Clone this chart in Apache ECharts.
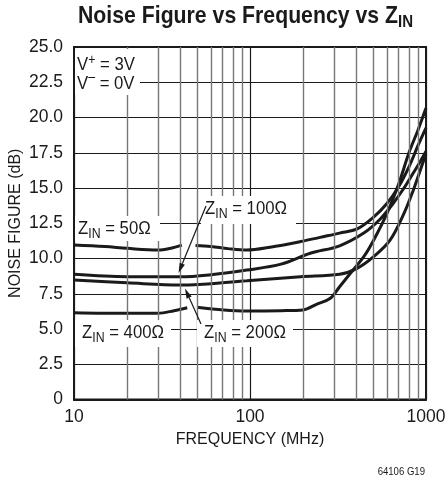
<!DOCTYPE html>
<html><head><meta charset="utf-8">
<script src="https://cdn.jsdelivr.net/npm/echarts@6/dist/echarts.min.js"></script>
<style>html,body{margin:0;padding:0;background:#fff}#c{width:448px;height:481px}</style>
</head><body><div id="c"></div>
<script>
// ---- data ----
const xTicks = [10, 100, 1000];
const minorX = [20,30,40,50,60,70,80,90,200,300,400,500,600,700,800,900];
const yTicks = [0,2.5,5,7.5,10,12.5,15,17.5,20,22.5,25];

const z50Freq = [10,15,20,30,36,41,45,49,60,75,96,130,194,250,323,406,500,600,700,800,900,1000];
const z50NF   = [10.96,10.85,10.72,10.6,10.75,10.95,null,10.92,10.85,10.7,10.6,10.8,11.2,11.5,11.8,12.1,12.9,13.9,15.1,16.5,18.0,19.26];

const z100Freq = [10,20,40,60,96,150,220,323,443,550,650,750,850,930,1000];
const z100NF   = [8.88,8.71,8.7,8.85,9.18,9.6,10.37,10.9,11.8,12.8,13.9,15.0,16.1,16.9,17.6];

const z200Freq = [10,20,40,96,194,323,406,504,625,750,850,930,1000];
const z200NF   = [8.47,8.28,8.12,8.43,8.71,8.88,9.3,10.13,11.3,13.2,14.9,16.3,17.4];

const z400Freq = [10,20,30,37,44,47,50,71,96,150,200,240,286,323,372,443,504,600,700,800,900,1000];
const z400NF   = [6.16,6.11,6.11,6.3,6.51,null,6.54,6.35,6.28,6.3,6.35,6.77,7.18,8.0,8.95,10.13,11.3,13.2,15.3,17.5,19.1,20.67];

// ---- chart ----
const FONT = "'Liberation Sans',Arial,sans-serif";
const INK = '#1a1a1a';
const pts = (f, v) => f.map((x, i) => [x, v[i] === null ? '-' : v[i]]);

const mctx = document.createElement('canvas').getContext('2d');
function tw(t, size, weight) { mctx.font = (weight||'normal') + ' ' + size + 'px ' + FONT; return mctx.measureText(t).width; }
// parts: [{t, size, dy, weight}] ; sx = horizontal condensing
function rich(x, y, parts, align, sx, fitW) {
  let total = 0; parts.forEach(p => total += tw(p.t, p.size, p.weight));
  if (fitW) sx = fitW / total;
  sx = sx || 1;
  let cx = align === 'center' ? x - total * sx / 2 : x;
  const els = [];
  parts.forEach(p => {
    els.push({type:'text', z: 20, x: cx, y: y + (p.dy||0), scaleX: sx, style:{text:p.t, fill: INK,
      font:(p.weight||'normal') + ' ' + p.size + 'px ' + FONT, textAlign:'left', textVerticalAlign:'middle'}});
    cx += tw(p.t, p.size, p.weight) * sx;
  });
  return els;
}
function box(x, y, w, h) { return {type:'rect', z: 15, shape:{x, y, width:w, height:h}, style:{fill:'#fff'}}; }
function arrow(x1, y1, x2, y2) {
  const dx = x2 - x1, dy = y2 - y1, L = Math.hypot(dx, dy), ux = dx / L, uy = dy / L;
  const bx = x2 - ux * 10, by = y2 - uy * 10, px = -uy * 2.8, py = ux * 2.8;
  return [
    {type:'line', z: 20, shape:{x1, y1, x2: bx, y2: by}, style:{stroke: INK, lineWidth: 1.2}},
    {type:'polygon', z: 20, shape:{points:[[x2,y2],[bx+px,by+py],[bx-px,by-py]]}, style:{fill: INK}}
  ];
}

const S = 19, SS = 14, SX = 0.88;
let g = [];
g = g.concat(rich(245.5, 16, [{t:'Noise Figure vs Frequency vs Z', size:24, weight:'bold'}, {t:'IN', size:17, weight:'bold', dy:6}], 'center', 1, 335));
g.push(box(75, 49, 65, 46));
g = g.concat(rich(77, 65, [{t:'V', size:S}, {t:'+', size:SS, dy:-5}, {t:' = 3V', size:S}], 'left', SX));
g = g.concat(rich(77, 84, [{t:'V', size:S}, {t:'\u2013', size:SS, dy:-7}, {t:' = 0V', size:S}], 'left', SX));
g.push(box(75, 216, 85, 25));
g = g.concat(rich(78, 229, [{t:'Z', size:S}, {t:'IN', size:SS, dy:5}, {t:' = 50\u03A9', size:S}], 'left', SX));
g.push(box(201, 196, 95, 28));
g = g.concat(rich(205, 209, [{t:'Z', size:S}, {t:'IN', size:SS, dy:5}, {t:' = 100\u03A9', size:S}], 'left', SX));
g.push(box(75, 320, 96, 27));
g = g.concat(rich(82, 333, [{t:'Z', size:S}, {t:'IN', size:SS, dy:5}, {t:' = 400\u03A9', size:S}], 'left', SX));
g.push(box(197, 320, 96, 27));
g = g.concat(rich(204, 333, [{t:'Z', size:S}, {t:'IN', size:SS, dy:5}, {t:' = 200\u03A9', size:S}], 'left', SX));
g = g.concat(arrow(206, 206, 178.5, 273));
g = g.concat(arrow(201, 324, 185, 288.5));
g.push({type:'text', z: 20, x: 425, y: 472, scaleX: 0.87, style:{text:'64106 G19', fill: INK, font:'11px ' + FONT, textAlign:'right', textVerticalAlign:'middle'}});

const curve = (name, f, v) => ({
  name, type:'line', data: pts(f, v), smooth: 0.35, symbol:'none', z: 4,
  lineStyle:{color: INK, width: 3}, silent: true, connectNulls: false
});

const chart = echarts.init(document.getElementById('c'), null, {renderer:'canvas'});
chart.setOption({
  animation: false,
  backgroundColor: '#fff',
  grid: {left: 74, right: 22, top: 47, bottom: 81.5, show: true, borderColor: INK, borderWidth: 2,
         containLabel: false, outerBoundsMode: 'none'},
  xAxis: {
    type:'log', logBase: 10, min: xTicks[0], max: xTicks[xTicks.length-1],
    name: 'FREQUENCY (MHz)', nameLocation: 'middle', nameGap: 32, nameMoveOverlap: false,
    nameTextStyle: {fontFamily: FONT, fontSize: 16, color: INK},
    axisLine: {show: true, lineStyle:{color: INK, width: 2}},
    axisTick: {show: false},
    axisLabel: {fontFamily: FONT, fontSize: 17.5, color: INK, margin: 9, formatter: v => String(v)},
    splitLine: {show: true, lineStyle: {color: INK, width: 1.2}}
  },
  yAxis: {
    type:'value', min: yTicks[0], max: yTicks[yTicks.length-1], interval: 2.5,
    name: 'NOISE FIGURE (dB)', nameLocation: 'middle', nameGap: 50, nameMoveOverlap: false,
    nameTextStyle: {fontFamily: FONT, fontSize: 16, color: INK},
    axisLine: {show: true, lineStyle:{color: INK, width: 2}},
    axisTick: {show: false},
    axisLabel: {fontFamily: FONT, fontSize: 17.5, color: INK, margin: 11,
      formatter: v => v === 0 ? '0' : v.toFixed(1)},
    splitLine: {show: true, lineStyle: {color: INK, width: 1.2}}
  },
  series: [
    {type:'line', data: [], z: 2, silent: true,
     markLine: {silent: true, symbol: ['none','none'], label: {show:false}, animation:false,
       lineStyle: {color:'#777', width: 1.4, type:'solid'}, emphasis:{disabled:true},
       data: minorX.map(v => ({xAxis: v}))}},
    curve('50', z50Freq, z50NF),
    curve('100', z100Freq, z100NF),
    curve('200', z200Freq, z200NF),
    curve('400', z400Freq, z400NF)
  ],
  graphic: {elements: g}
});
</script></body></html>
